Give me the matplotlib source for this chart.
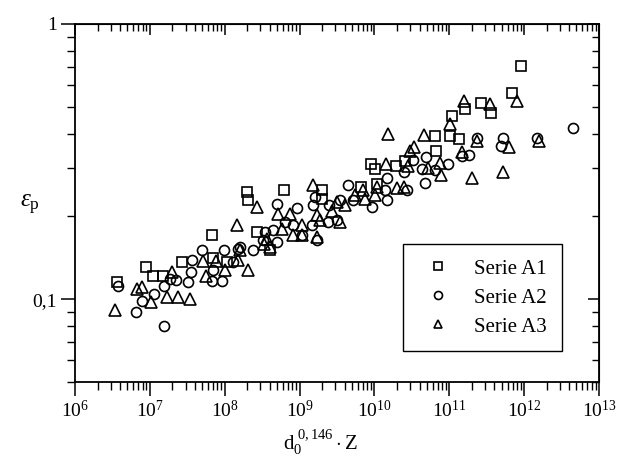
import numpy as np
import matplotlib
matplotlib.use('Agg')
import matplotlib.pyplot as plt
from matplotlib.ticker import FixedLocator, FuncFormatter, LogLocator, NullFormatter

plt.rcParams['font.family'] = 'Liberation Serif'
plt.rcParams['mathtext.fontset'] = 'custom'
plt.rcParams['mathtext.rm'] = 'Liberation Serif'
plt.rcParams['mathtext.it'] = 'Liberation Serif:italic'

# Serie A1 (squares)
a1_x = [3.61e6, 8.88e6, 1.11e7, 1.51e7, 2.66e7, 6.7e7, 7.03e7, 1.06e8, 2.67e8, 4.03e8,
        2.01e8, 2.07e8, 6.19e8, 2.02e9, 2.02e9, 6.61e9, 1.07e10, 8.86e9, 1.02e10, 1.94e10,
        2.56e10, 6.74e10, 6.44e10, 1.02e11, 1.34e11, 1.09e11, 1.6e11, 2.69e11, 3.66e11,
        6.98e11, 8.99e11]
a1_y = [0.116, 0.131, 0.122, 0.122, 0.137, 0.172, 0.141, 0.137, 0.176, 0.151,
        0.245, 0.229, 0.25, 0.25, 0.232, 0.256, 0.262, 0.311, 0.297, 0.305,
        0.318, 0.347, 0.392, 0.392, 0.381, 0.465, 0.492, 0.516, 0.477,
        0.56, 0.705]

# Serie A2 (circles)
a2_x = [3.79e6, 6.47e6, 7.78e6, 1.14e7, 1.55e7, 1.55e7, 2.21e7, 1.86e7, 3.26e7, 3.55e7,
        3.66e7, 4.93e7, 6.7e7, 7.03e7, 9.12e7, 9.78e7, 1.3e8, 1.52e8, 2.41e8, 3.45e8,
        4.94e8, 4.94e8, 4.46e8, 9.16e8, 8.24e8, 1.52e9, 1.69e9, 1.45e9, 2.47e9, 3.13e9,
        6.38e8, 1.07e9, 3.27e8, 1.6e8, 2.42e9, 4.48e9, 1.61e9, 3.47e9, 5.22e9, 9.18e9,
        1.49e10, 1.38e10, 1.46e10, 2.7e10, 2.5e10, 3.3e10, 4.84e10, 9.7e10, 4.28e10, 6.44e10,
        4.8e10, 1.47e11, 1.85e11, 2.32e11, 5.21e11, 4.91e11, 1.47e12, 4.45e12]
a2_y = [0.112, 0.09, 0.099, 0.105, 0.08, 0.112, 0.118, 0.119, 0.116, 0.126,
        0.139, 0.151, 0.117, 0.1275, 0.117, 0.151, 0.137, 0.153, 0.151, 0.176,
        0.162, 0.222, 0.179, 0.215, 0.186, 0.22, 0.164, 0.186, 0.22, 0.194,
        0.191, 0.171, 0.164, 0.155, 0.191, 0.26, 0.236, 0.229, 0.229, 0.217,
        0.275, 0.249, 0.23, 0.249, 0.29, 0.32, 0.328, 0.311, 0.297, 0.294,
        0.264, 0.331, 0.333, 0.385, 0.387, 0.36, 0.387, 0.419]

# Serie A3 (triangles)
a3_x = [3.42e6, 6.67e6, 7.78e6, 1.05e7, 1.68e7, 2.4e7, 3.4e7, 1.95e7, 5.17e7, 5.62e7,
        7.65e7, 1.01e8, 1.52e8, 1.6e8, 2.03e8, 1.48e8, 3.35e8, 4.03e8, 2.67e8, 5.2e8,
        7.45e8, 5.77e8, 8.24e8, 1.07e9, 1.07e9, 1.49e9, 1.69e9, 1.69e9, 1.87e9, 2.69e9,
        3.13e9, 3.47e9, 3.64e8, 1.53e10, 2.99e10, 1.43e10, 7.1e9, 1.07e10, 1.98e10, 5.5e9,
        1.02e10, 4.05e9, 7.48e9, 1.55e11, 3.5e11, 1.02e11, 4.59e10, 2.38e11, 3.35e10, 1.48e11,
        7.45e10, 2.85e10, 5.14e10, 7.8e10, 1.99e11, 2.5e10, 8.02e11, 1.58e12, 6.18e11, 5.21e11]
a3_y = [0.0912, 0.109, 0.111, 0.0975, 0.102, 0.102, 0.1006, 0.126, 0.1375, 0.122,
        0.1375, 0.1275, 0.139, 0.151, 0.1275, 0.187, 0.159, 0.155, 0.217, 0.204,
        0.204, 0.18, 0.171, 0.171, 0.186, 0.26, 0.169, 0.202, 0.194, 0.21,
        0.226, 0.191, 0.166, 0.398, 0.347, 0.311, 0.249, 0.256, 0.253, 0.239,
        0.239, 0.22, 0.232, 0.527, 0.51, 0.435, 0.395, 0.375, 0.357, 0.343,
        0.312, 0.304, 0.299, 0.284, 0.277, 0.255, 0.527, 0.377, 0.357, 0.29]

y_major = [0.1, 1]
y_minor = [0.05, 0.06, 0.07, 0.08, 0.09, 0.2, 0.3, 0.4, 0.5, 0.6, 0.7, 0.8, 0.9]

fig = plt.figure(figsize=(6.21, 4.66), dpi=100)
ax = fig.add_axes([0.1208, 0.1796, 0.8438, 0.769])

mk = dict(linestyle='none', mfc='none', mec='k', mew=1.2)
ax.plot(a1_x, a1_y, 's', ms=7, label='Serie A1', **mk)
ax.plot(a2_x, a2_y, 'o', ms=7.2, label='Serie A2', **mk)
ax.plot(a3_x, a3_y, '^', ms=8, label='Serie A3', **mk)

ax.set_xscale('log')
ax.set_yscale('log')
ax.set_xlim(1e6, 1e13)
ax.set_ylim(0.05, 1)

ax.xaxis.set_major_locator(LogLocator(base=10, numticks=20))
ax.xaxis.set_minor_locator(LogLocator(base=10, subs=np.arange(2, 10), numticks=20))
ax.xaxis.set_major_formatter(FuncFormatter(lambda v, p: r'$10^{%d}$' % round(np.log10(v))))
ax.xaxis.set_minor_formatter(NullFormatter())
ax.yaxis.set_major_locator(FixedLocator(y_major))
ax.yaxis.set_minor_locator(FixedLocator(y_minor))
ax.yaxis.set_major_formatter(FuncFormatter(lambda v, p: '0,1' if v < 0.5 else '1'))
ax.yaxis.set_minor_formatter(NullFormatter())

ax.tick_params(which='major', direction='out', length=10, width=1.1, labelsize=14, pad=3)
ax.tick_params(which='minor', direction='out', length=6, width=1.0)
for s in ax.spines.values():
    s.set_linewidth(1.3)

# top and right ticks point inward
secx = ax.secondary_xaxis('top')
secx.xaxis.set_major_locator(LogLocator(base=10, numticks=20))
secx.xaxis.set_minor_locator(LogLocator(base=10, subs=np.arange(2, 10), numticks=20))
secx.tick_params(which='both', labeltop=False, labelbottom=False)
secx.tick_params(which='major', direction='in', length=8, width=1.1)
secx.tick_params(which='minor', direction='in', length=5, width=1.0)

secy = ax.secondary_yaxis('right')
secy.yaxis.set_major_locator(FixedLocator(y_major))
secy.yaxis.set_minor_locator(FixedLocator(y_minor))
secy.tick_params(which='both', labelright=False, labelleft=False)
secy.tick_params(which='major', direction='in', length=8, width=1.1)
secy.tick_params(which='minor', direction='in', length=5, width=1.0)

ax.set_xlabel(r'$\mathrm{d}_{0}^{\ 0,146}\cdot\mathrm{Z}$', fontsize=15)
ax.xaxis.set_label_coords(0.468, -0.125)
ax.set_ylabel(r'$\varepsilon_{\mathrm{p}}$', fontsize=18, rotation=0, va='center')
ax.yaxis.set_label_coords(-0.086, 0.495)

leg = ax.legend(loc='lower left', bbox_to_anchor=(0.626, 0.087), borderaxespad=0,
                fancybox=False, edgecolor='k', framealpha=1, fontsize=15,
                handlelength=2, handletextpad=0.72, labelspacing=0.45,
                borderpad=0.7, markerscale=0.8)
leg.get_frame().set_linewidth(1.0)

fig.savefig('out.png', dpi=100)
